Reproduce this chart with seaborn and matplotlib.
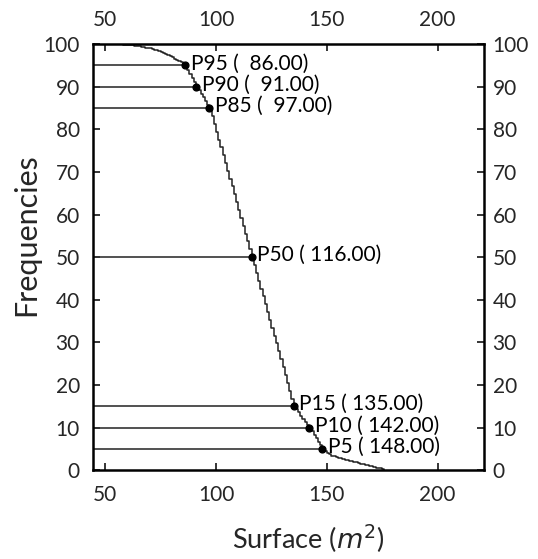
import matplotlib
matplotlib.use("Agg")
import matplotlib.pyplot as plt
import seaborn as sns
import pandas as pd

# Step curve (exceedance frequency, %)
surface = [57, 58, 59, 60, 61, 62, 63, 64, 65, 66, 67, 68, 69, 70, 71, 72, 73, 74, 75, 76,
           77, 78, 79, 80, 81, 82, 83, 84, 85, 86, 87, 88, 89, 90, 91, 92, 93, 94, 95, 96,
           97, 98, 99, 100, 101, 102, 103, 104, 105, 106, 107, 108, 109, 110, 111, 112, 113, 114, 115, 116,
           117, 118, 119, 120, 121, 122, 123, 124, 125, 126, 127, 128, 129, 130, 131, 132, 133, 134, 135, 136,
           137, 138, 139, 140, 141, 142, 143, 144, 145, 146, 147, 148, 149, 150, 151, 152, 153, 154, 155, 156,
           157, 158, 159, 160, 161, 162, 163, 164, 165, 166, 167, 168, 169, 170, 171, 172, 173, 174, 175, 176]
frequency = [100, 99.9, 99.9, 99.8, 99.8, 99.7, 99.6, 99.5, 99.5, 99.4, 99.3, 99.2, 99.1, 99.0, 98.9, 98.7, 98.6, 98.5, 98.2, 98.0,
             97.7, 97.4, 97.2, 97.0, 96.6, 96.3, 96.0, 95.7, 95.4, 95.0, 93.9, 93.0, 92.0, 91.0, 90.0, 89.2, 88.3, 87.5, 86.7, 85.8,
             85.0, 83.2, 81.3, 79.4, 77.6, 75.8, 74.0, 72.1, 70.3, 68.4, 66.6, 64.8, 62.9, 61.0, 59.2, 57.4, 55.5, 53.7, 51.8, 50.0,
             48.2, 46.3, 44.5, 42.6, 40.8, 38.9, 37.1, 35.3, 33.4, 31.6, 29.8, 27.9, 26.1, 24.2, 22.4, 20.5, 18.6, 16.8, 15.0, 14.3,
             13.6, 12.8, 12.1, 11.4, 10.7, 10.0, 9.2, 8.3, 7.5, 6.7, 5.8, 5.0, 4.4, 4.0, 3.7, 3.4, 3.2, 3.0, 2.9, 2.8,
             2.6, 2.4, 2.3, 2.2, 2.1, 1.9, 1.8, 1.7, 1.5, 1.4, 1.2, 1.1, 1.0, 0.9, 0.8, 0.6, 0.5, 0.4, 0.2, 0.0]

# Percentiles
pct_levels = [95, 90, 85, 50, 15, 10, 5]
pct_values = [86.00, 91.00, 97.00, 116.00, 135.00, 142.00, 148.00]

x_ticks = [50, 100, 150, 200]
y_ticks = [0, 10, 20, 30, 40, 50, 60, 70, 80, 90, 100]

sns.set_style("ticks")
plt.rcParams["font.family"] = ["Lato", "DejaVu Sans"]
plt.rcParams["mathtext.fontset"] = "dejavusans"

fig = plt.figure(figsize=(5.38, 5.59), dpi=100)
ax = fig.add_axes([0.173, 0.159, 0.727, 0.762])

df = pd.DataFrame({"Surface": surface, "Frequency": frequency})
sns.lineplot(data=df, x="Surface", y="Frequency", ax=ax, color="#222222",
             linewidth=1.1, drawstyle="steps-post", estimator=None)

xmin, xmax = 44.5, 221
ax.hlines(pct_levels, xmin, pct_values, colors="#333333", linewidth=1.2, zorder=2)
ax.scatter(pct_values, pct_levels, s=24, color="black", zorder=4)
for p, v in zip(pct_levels, pct_values):
    ax.annotate(f"P{p} ( {v:6.2f})", (v, p), xytext=(4, 1.5), textcoords="offset points",
                ha="left", va="center", fontsize=15, color="black")

ax.set_xlim(xmin, xmax)
ax.set_ylim(0, 100)
ax.set_xticks(x_ticks)
ax.set_yticks(y_ticks)

for s in ax.spines.values():
    s.set_visible(True)
    s.set_linewidth(1.8)
    s.set_color("black")

ax.tick_params(axis="x", direction="in", top=True, bottom=True, labelbottom=True,
               labeltop=False, length=5, width=1.3, labelsize=15, pad=11)
ax.tick_params(axis="y", direction="in", left=True, right=True, labelleft=True,
               labelright=False, length=5, width=1.3, labelsize=15, pad=9.5)

# top and right tick labels with their own padding
secx = ax.secondary_xaxis("top")
secx.set_xticks(x_ticks)
secx.tick_params(axis="x", direction="in", length=0, labelsize=15, pad=10)
secx.spines["top"].set_visible(False)
secy = ax.secondary_yaxis("right")
secy.set_yticks(y_ticks)
secy.tick_params(axis="y", direction="in", length=0, labelsize=15, pad=6)
secy.spines["right"].set_visible(False)

ax.set_xlabel(r"Surface ($m^2$)", fontsize=19.5)
ax.set_ylabel("Frequencies", fontsize=22)
ax.xaxis.set_label_coords(0.55, -0.122)
ax.yaxis.set_label_coords(-0.136, 0.554)

fig.savefig("out.png", dpi=100)
